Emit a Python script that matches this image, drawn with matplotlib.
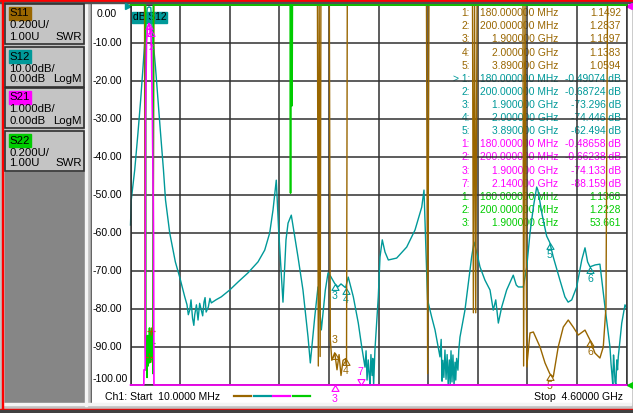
import matplotlib.pyplot as plt
from matplotlib.patches import Rectangle
import numpy as np

plt.rcParams['font.family'] = ['Liberation Sans', 'DejaVu Sans']

C11, C12, C21, C22 = '#996600', '#009999', '#ff00ff', '#00cc00'
GRID = '#303030'

# sweep
start_ghz, stop_ghz = 0.010, 4.600

# S12 LogM trace (GHz, dB) - 10 dB/div, ref 0 dB at top
s12_f = [0.010, 0.017, 0.049, 0.079, 0.104, 0.126, 0.147, 0.165, 0.180, 0.198,
         0.213, 0.241, 0.264, 0.288, 0.315, 0.334, 0.373, 0.425, 0.465, 0.512,
         0.533, 0.545, 0.558, 0.570, 0.584, 0.596, 0.604, 0.620, 0.635, 0.650,
         0.665, 0.678, 0.690, 0.700, 0.710, 0.730, 0.745, 0.758, 0.800, 0.850,
         0.928, 1.005, 1.097, 1.190, 1.252, 1.298, 1.329, 1.359, 1.381, 1.421,
         1.449, 1.468, 1.498, 1.560, 1.606, 1.653, 1.674, 1.715, 1.745, 1.776,
         1.813, 1.838, 1.856, 1.900, 1.930, 1.958, 2.000, 2.025, 2.072, 2.118,
         2.150, 2.180, 2.190, 2.199, 2.210, 2.218, 2.226, 2.235, 2.245, 2.252,
         2.260, 2.272, 2.303, 2.319, 2.340, 2.365, 2.396, 2.473, 2.566, 2.643,
         2.705, 2.726, 2.759, 2.797, 2.828, 2.874, 2.885, 2.893, 2.900, 2.910,
         2.920, 2.930, 2.940, 2.950, 2.960, 2.968, 2.976, 2.985, 2.994, 3.004,
         3.013, 3.020, 3.028, 3.040, 3.048, 3.059, 3.105, 3.136, 3.167, 3.189,
         3.220, 3.244, 3.290, 3.337, 3.367, 3.390, 3.414, 3.445, 3.491, 3.552,
         3.580, 3.599, 3.645, 3.677, 3.707, 3.738, 3.769, 3.780, 3.820, 3.861,
         3.890, 3.922, 3.984, 4.030, 4.060, 4.093, 4.139, 4.186, 4.216, 4.240,
         4.262, 4.310, 4.354, 4.401, 4.447, 4.457, 4.466, 4.473, 4.480, 4.487,
         4.494, 4.502, 4.510, 4.517, 4.524, 4.556, 4.586, 4.600]
s12_db = [-57.9, -51.3, -43.4, -33.7, -25.0, -16.3, -7.4, -0.8, -0.49, -0.69,
          -7.4, -16.3, -25.0, -33.7, -43.4, -51.3, -60.0, -67.6, -71.6, -76.8,
          -78.9, -81.5, -80.3, -77.6, -82.4, -84.3, -81.6, -78.9, -82.9, -78.5,
          -80.3, -81.8, -78.2, -77.0, -80.8, -79.5, -77.2, -78.4, -77.6, -76.8,
          -75.0, -72.9, -70.5, -67.6, -64.5, -60.0, -53.9, -46.1, -59.2, -78.2,
          -61.8, -57.4, -55.3, -66.3, -75.0, -87.4, -94.2, -82.1, -74.2, -85.5,
          -75.0, -70.5, -71.1, -73.3, -74.2, -73.4, -74.4, -71.6, -76.8, -83.7,
          -90.0, -95.3, -91.0, -98.7, -93.4, -97.0, -100.0, -92.0, -97.5, -93.0,
          -100.0, -90.8, -76.8, -66.3, -61.8, -65.0, -67.1, -66.6, -63.7, -59.2,
          -53.2, -48.7, -77.6, -82.1, -85.5, -92.6, -88.0, -99.0, -93.5, -98.0,
          -90.8, -98.5, -92.0, -100.0, -93.4, -100.0, -91.0, -99.2, -92.1, -100.0,
          -94.0, -98.7, -93.0, -96.1, -90.8, -87.4, -80.3, -73.2, -66.3, -62.4,
          -65.8, -68.9, -72.4, -75.0, -80.3, -77.6, -83.7, -79.5, -75.0, -71.1,
          -73.7, -74.2, -74.2, -68.9, -60.0, -53.2, -47.9, -48.7, -55.3, -60.8,
          -62.5, -66.3, -72.4, -76.8, -78.2, -77.6, -74.2, -67.1, -63.9, -67.6,
          -68.9, -68.4, -68.2, -79.5, -90.0, -94.5, -97.4, -100.0, -92.1, -95.0,
          -99.2, -100.0, -93.4, -96.0, -92.6, -83.7, -78.9, -79.7]

# S11 SWR trace - 0.2 U/div, ref 1.00 at bottom (5 = off scale)
s11_f = [0.010, 0.140, 0.144, 0.153, 0.163, 0.180, 0.198, 0.209, 0.218, 0.227,
         1.740, 1.748, 1.756, 1.765, 1.772, 1.850, 1.859, 1.873, 1.900, 1.921,
         1.940, 1.958, 1.977, 2.000, 2.009, 2.016, 2.749, 2.760, 2.772, 3.175,
         3.183, 3.194, 3.205, 3.217, 3.642, 3.648, 3.661, 3.677, 3.707, 3.738,
         3.800, 3.846, 3.890, 3.922, 3.968, 4.015, 4.061, 4.107, 4.154, 4.216,
         4.262, 4.308, 4.354, 4.385, 4.410, 4.424, 4.600]
s11_swr = [5, 5, 1.25, 1.08, 1.17, 1.1492, 1.2837, 1.12, 1.22, 5,
           5, 1.10, 5, 1.15, 5, 5, 1.24, 1.13, 1.1697, 1.08,
           1.16, 1.05, 1.13, 1.1383, 1.10, 5, 5, 1.06, 5, 5,
           1.38, 5, 1.38, 5, 5, 1.10, 5, 1.095, 1.274, 1.279,
           1.200, 1.116, 1.0594, 1.042, 1.200, 1.305, 1.342, 1.305, 1.263, 1.289,
           1.237, 1.168, 1.142, 1.200, 1.410, 5, 5]

# S22 SWR trace
s22_f = [0.010, 0.150, 0.152, 0.158, 0.163, 0.168, 0.172, 0.176, 0.180, 0.186,
         0.192, 0.198, 0.200, 0.206, 0.212, 0.219, 0.221, 1.488, 1.491, 1.494,
         1.503, 1.505, 1.508, 4.600]
s22_swr = [5, 5, 1.08, 1.20, 1.04, 1.26, 1.10, 1.22, 1.1368, 1.30,
           1.12, 1.25, 1.2228, 1.15, 1.28, 1.06, 5, 5, 2.01, 5,
           5, 2.47, 5, 5]

# S21 LogM trace - 1 dB/div, ref 0 dB at top (-20 = off scale)
s21_f = [0.010, 0.133, 0.135, 0.146, 0.149, 0.158, 0.167, 0.180, 0.198, 0.204,
         0.213, 0.223, 0.227, 4.600]
s21_db = [-20, -20, -9.6, -9.6, -3.0, -1.0, -0.6, -0.48658, -0.66238, -1.2,
          -3.0, -6.0, -20, -20]

# marker table
mk_f = [0.18, 0.2, 1.9, 2.0, 3.89]
s11_mk = [1.1492, 1.2837, 1.1697, 1.1383, 1.0594]
s12_mk = [-0.49074, -0.68724, -73.296, -74.446, -62.494]
s21_mk_n = [1, 2, 3, 7]
s21_mk_f = [0.18, 0.2, 1.9, 2.14]
s21_mk = [-0.48658, -0.66238, -74.133, -88.159]
s22_mk_n = [1, 2, 3]
s22_mk_f = [0.18, 0.2, 1.9]
s22_mk = [1.1368, 1.2228, 53.661]

# markers drawn on the traces
shown_n = ['3', '4', '5', '6']
shown_f = [1.9, 2.0, 3.89, 4.262]

buttons = [('S11', C11, '0.200U/', '1.00U', 'SWR'),
           ('S12', C12, '10.00dB/', '0.00dB', 'LogM'),
           ('S21', C21, '1.000dB/', '0.00dB', 'LogM'),
           ('S22', C22, '0.200U/', '1.00U', 'SWR')]

W, H = 633, 413
fig = plt.figure(figsize=(W / 100, H / 100), dpi=100)

# ---- window chrome (pixel coordinates) ----
bg = fig.add_axes([0, 0, 1, 1])
bg.set_xlim(0, W)
bg.set_ylim(H, 0)
bg.axis('off')
bg.add_patch(Rectangle((0, 0), W, H, color='#c0c0c0'))
bg.add_patch(Rectangle((5, 172), 80, 231, color='#868686'))
bg.add_patch(Rectangle((85, 3), 2, 403, color='#f4f4f4'))
bg.add_patch(Rectangle((90.5, 3), 1.5, 400, color='#404040'))
bg.add_patch(Rectangle((92, 3), 539, 400, color='white'))
bg.add_patch(Rectangle((3, 403), 628, 2, color='#f4f4f4'))
bg.add_patch(Rectangle((0, 0), W, 1.6, color='#ff0000'))
bg.add_patch(Rectangle((0, 1.6), W, 1.4, color='#505050'))
bg.add_patch(Rectangle((1.5, 0), 1.6, H, color='#ff0000'))
bg.add_patch(Rectangle((0, 408.5), W, 1.8, color='#ff0000'))
bg.add_patch(Rectangle((0, 410.3), W, 2.7, color='#404040'))

for i, (name, col, l1, l2, fmt) in enumerate(buttons):
    y0 = [4, 47, 88, 131][i]
    bg.add_patch(Rectangle((4.5, y0), 79, 40, facecolor='#c4c4c4',
                           edgecolor='#303030', lw=1.2))
    bg.add_patch(Rectangle((9, y0 + 3), 22, 12.5, color=col))
    bg.text(9.5, y0 + 9.5, name, fontsize=8.2, va='center', ha='left')
    bg.text(9, y0 + 21.5, l1, fontsize=8.2, va='center', ha='left')
    bg.text(9, y0 + 32.5, l2, fontsize=8.2, va='center', ha='left')
    bg.text(82, y0 + 32.5, fmt, fontsize=8.2, va='center', ha='right')

# active-trace label
bg.add_patch(Rectangle((132, 11.5), 35, 11, color=C12))
bg.text(133, 17.3, 'dB S12', fontsize=7.4, va='center', ha='left')


def fmt_f(f):
    return f'{f * 1000:.6f} MHz' if f < 1 else f'{f:.6f} GHz'


# marker table
groups = [(C11, [1, 2, 3, 4, 5], mk_f, [f'{v:.5g}' for v in s11_mk]),
          (C12, [1, 2, 3, 4, 5], mk_f, [f'{v:.5g} dB' for v in s12_mk]),
          (C21, s21_mk_n, s21_mk_f, [f'{v:.5g} dB' for v in s21_mk]),
          (C22, s22_mk_n, s22_mk_f, [f'{v:.5g}' for v in s22_mk])]
row = 0
for col, nums, freqs, vals in groups:
    for j, (n, f, v) in enumerate(zip(nums, freqs, vals)):
        y = 13.3 + 13.1 * row
        lab = f'> {n}:' if (col == C12 and j == 0) else f'{n}:'
        bg.text(470, y, lab, color=col, fontsize=7.4, ha='right', va='center')
        bg.text(558, y, fmt_f(f), color=col, fontsize=7.4, ha='right', va='center')
        bg.text(621, y, v, color=col, fontsize=7.4, ha='right', va='center')
        row += 1

# status line
bg.text(105, 396.5, f'Ch1: Start  {start_ghz * 1000:.4f} MHz', fontsize=7.6,
        va='center', ha='left')
bg.text(623, 396.5, f'Stop  {stop_ghz:.5f} GHz', fontsize=7.6,
        va='center', ha='right')
for k, col in enumerate([C11, C12, C21, C22]):
    bg.plot([234 + 19.5 * k, 251 + 19.5 * k], [395.5, 395.5], color=col, lw=1.6)

# reference position arrows
bg.plot(127.5, 6, marker='>', color=C12, ms=4.5)
bg.plot(629, 6, marker='<', color=C21, ms=4.5)
bg.plot(629.5, 385, marker='<', color=C22, ms=5)

# ---- measurement axes ----
rect = [130.5 / W, 1 - 385 / H, 496 / W, 380 / H]
ax = fig.add_axes(rect)
ax.patch.set_visible(False)
ax.set_xlim(start_ghz, stop_ghz)
ax.set_ylim(-100, 0)
ax.set_xticks(np.linspace(start_ghz, stop_ghz, 11))
ax.set_yticks(np.arange(-100, 1, 10))
ax.grid(True, color=GRID, lw=1.1)
ax.tick_params(length=0, labelbottom=False, labelleft=False)
for sp in ax.spines.values():
    sp.set_color(GRID)
    sp.set_linewidth(1.1)
ytr = ax.get_yaxis_transform()
for v in range(0, -101, -10):
    if v == 0:
        ax.text(-0.069, v - 1.0, f'{v:.2f}', transform=ytr, fontsize=7.6,
                ha='left', va='top')
    elif v == -100:
        ax.text(-0.0756, v + 0.3, f'{v:.2f}', transform=ytr, fontsize=7.6,
                ha='left', va='bottom')
    else:
        ax.text(-0.0756, v, f'{v:.2f}', transform=ytr, fontsize=7.6,
                ha='left', va='center')

swr = fig.add_axes(rect, sharex=ax)
swr.set_ylim(1.0, 3.0)
swr.axis('off')
s21ax = fig.add_axes(rect, sharex=ax)
s21ax.set_ylim(-10, 0)
s21ax.axis('off')

TRI_UP = [(0, 0), (-0.6, -1), (0.6, -1), (0, 0)]
TRI_DN = [(0, 0), (-0.6, 1), (0.6, 1), (0, 0)]


def marker(a, f, v, col, lab, dy=-12, verts=TRI_UP, size=7.6):
    a.plot([f], [v], ls='none', marker=verts, ms=8.5, mfc='none', mec=col,
           mew=0.8, clip_on=False)
    a.annotate(lab, (f, v), xytext=(0, dy), textcoords='offset pixels',
               ha='center', va='center', color=col, fontsize=size,
               annotation_clip=False)


lo, hi = swr.get_ylim()
swr.plot(s11_f, np.clip(s11_swr, lo, hi), color=C11, lw=1.0, clip_on=False)
ax.plot(s12_f, np.clip(s12_db, -100, 0), color=C12, lw=1.0, clip_on=False)
swr.plot(s22_f, np.clip(s22_swr, lo, hi), color=C22, lw=1.2, clip_on=False)
s21ax.plot(s21_f, np.clip(s21_db, -10, 0), color=C21, lw=1.2, clip_on=False)

for n, f in zip(shown_n, shown_f):
    marker(ax, f, np.interp(f, s12_f, s12_db), C12, n)
    marker(swr, f, np.interp(f, s11_f, s11_swr), C11, n,
           dy=13 if n == '3' else -12)

for f, v in zip(mk_f[:2], s11_mk[:2]):
    swr.plot(f, v, marker='+', color=C11, ms=6, mew=0.9)
for f, v in zip(s22_mk_f[:2], s22_mk[:2]):
    swr.plot(f, v, marker='+', color=C22, ms=6, mew=0.9)

for n, f, v in zip(s21_mk_n, s21_mk_f, s21_mk):
    vv = max(v, -10)
    if n == 7:
        marker(s21ax, f, vv, C21, str(n), dy=13, verts=TRI_DN)
    elif v < -10:
        marker(s21ax, f, vv, C21, str(n), dy=-14)
    else:
        marker(s21ax, f, vv, C21, str(n), dy=-8 - 9 * (n - 1), size=6.5)

fig.savefig('out.png', dpi=100)
